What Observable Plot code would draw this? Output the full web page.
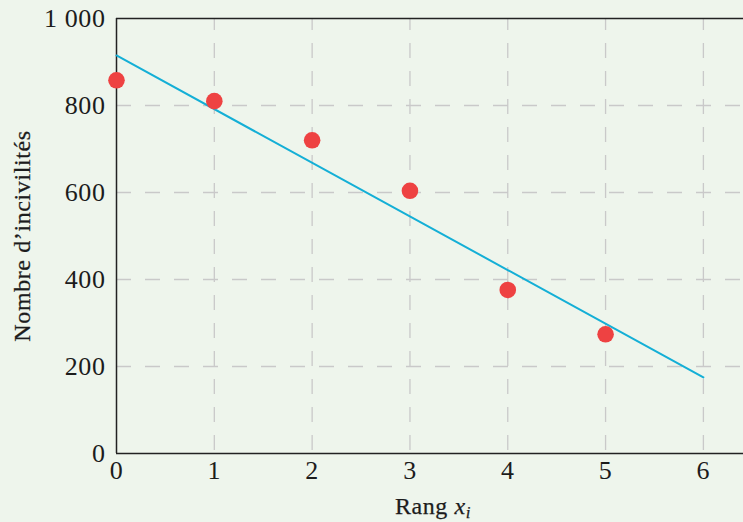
<!DOCTYPE html>
<html><head><meta charset="utf-8">
<script src="https://cdn.jsdelivr.net/npm/d3@7"></script>
<script src="https://cdn.jsdelivr.net/npm/@observablehq/plot@0.6"></script>
<style>
html,body{margin:0;padding:0;background:#eef5ec;}
svg text{font-family:'Liberation Serif','Times New Roman',serif;}
</style></head><body>
<div id="chart"></div>
<script>
const ranks = [0, 1, 2, 3, 4, 5];
const incivilites = [858, 810, 720, 604, 376, 274];
const fitX = [0, 6];
const fitY = [915, 175];
const xTicks = [0, 1, 2, 3, 4, 5, 6];
const yTicks = [0, 200, 400, 600, 800, 1000];
const yTickLabels = ["0", "200", "400", "600", "800", "1 000"];
const xGrid = [1, 2, 3, 4, 5, 6];
const yGrid = [200, 400, 600, 800];
const xLabel = "Rang x_i";
const yLabel = "Nombre d\u2019incivilités";

const points = ranks.map((r, i) => ({x: r, y: incivilites[i]}));
const fit = fitX.map((x, i) => ({x, y: fitY[i]}));
const font = "'Liberation Serif', 'Times New Roman', serif";
const fs = 24;
const tfs = 26;
const ink = "#1c1c1c";

const chart = Plot.plot({
  width: 743, height: 522,
  marginLeft: 116, marginTop: 18, marginBottom: 69, marginRight: 0,
  style: {background: "#eef5ec", fontFamily: font, fontSize: "24px", color: ink, letterSpacing: "0.6px"},
  x: {domain: [0, 6.41]},
  y: {domain: [0, 1000]},
  marks: [
    Plot.gridX(xGrid, {stroke: "#c9c9c9", strokeOpacity: 1, strokeWidth: 1.3, strokeDasharray: "15,13", strokeDashoffset: 3}),
    Plot.gridY(yGrid, {stroke: "#c9c9c9", strokeOpacity: 1, strokeWidth: 1.3, strokeDasharray: "15,14"}),
    Plot.ruleY([0, 1000], {stroke: "#222", strokeWidth: 1.5}),
    Plot.ruleX([0], {stroke: "#222", strokeWidth: 1.5}),
    Plot.line(fit, {x: "x", y: "y", stroke: "#14afd6", strokeWidth: 2}),
    Plot.dot(points, {x: "x", y: "y", r: 8.3, fill: "#ee4242", stroke: "none"}),
    Plot.axisY(yTicks, {tickSize: 0, tickPadding: 11, label: null, fontSize: tfs, tickFormat: d => yTickLabels[yTicks.indexOf(d)], fill: ink, stroke: ink, strokeWidth: 0.25}),
    Plot.axisX(xTicks, {tickSize: 0, tickPadding: 7, label: null, fontSize: tfs, fill: ink, stroke: ink, strokeWidth: 0.25}),
    Plot.text([yLabel], {frameAnchor: "left", rotate: -90, dx: -94, textAnchor: "middle", lineAnchor: "middle", fontSize: fs, fill: ink, stroke: ink, strokeWidth: 0.25}),
    Plot.text([xLabel], {frameAnchor: "bottom", dy: 53, dx: 3, textAnchor: "middle", lineAnchor: "middle", fontSize: fs, fill: ink, stroke: ink, strokeWidth: 0.25})
  ]
});
document.getElementById("chart").appendChild(chart);
d3.select(chart).selectAll("text").filter(function(){ return this.textContent === xLabel; })
  .each(function(){
    const t = d3.select(this);
    t.text(null);
    t.append("tspan").text("Rang ");
    t.append("tspan").attr("font-style", "italic").text("x");
    t.append("tspan").attr("font-style", "italic").attr("font-size", "17px").attr("dy", "4").text("i");
  });
</script>
</body></html>
